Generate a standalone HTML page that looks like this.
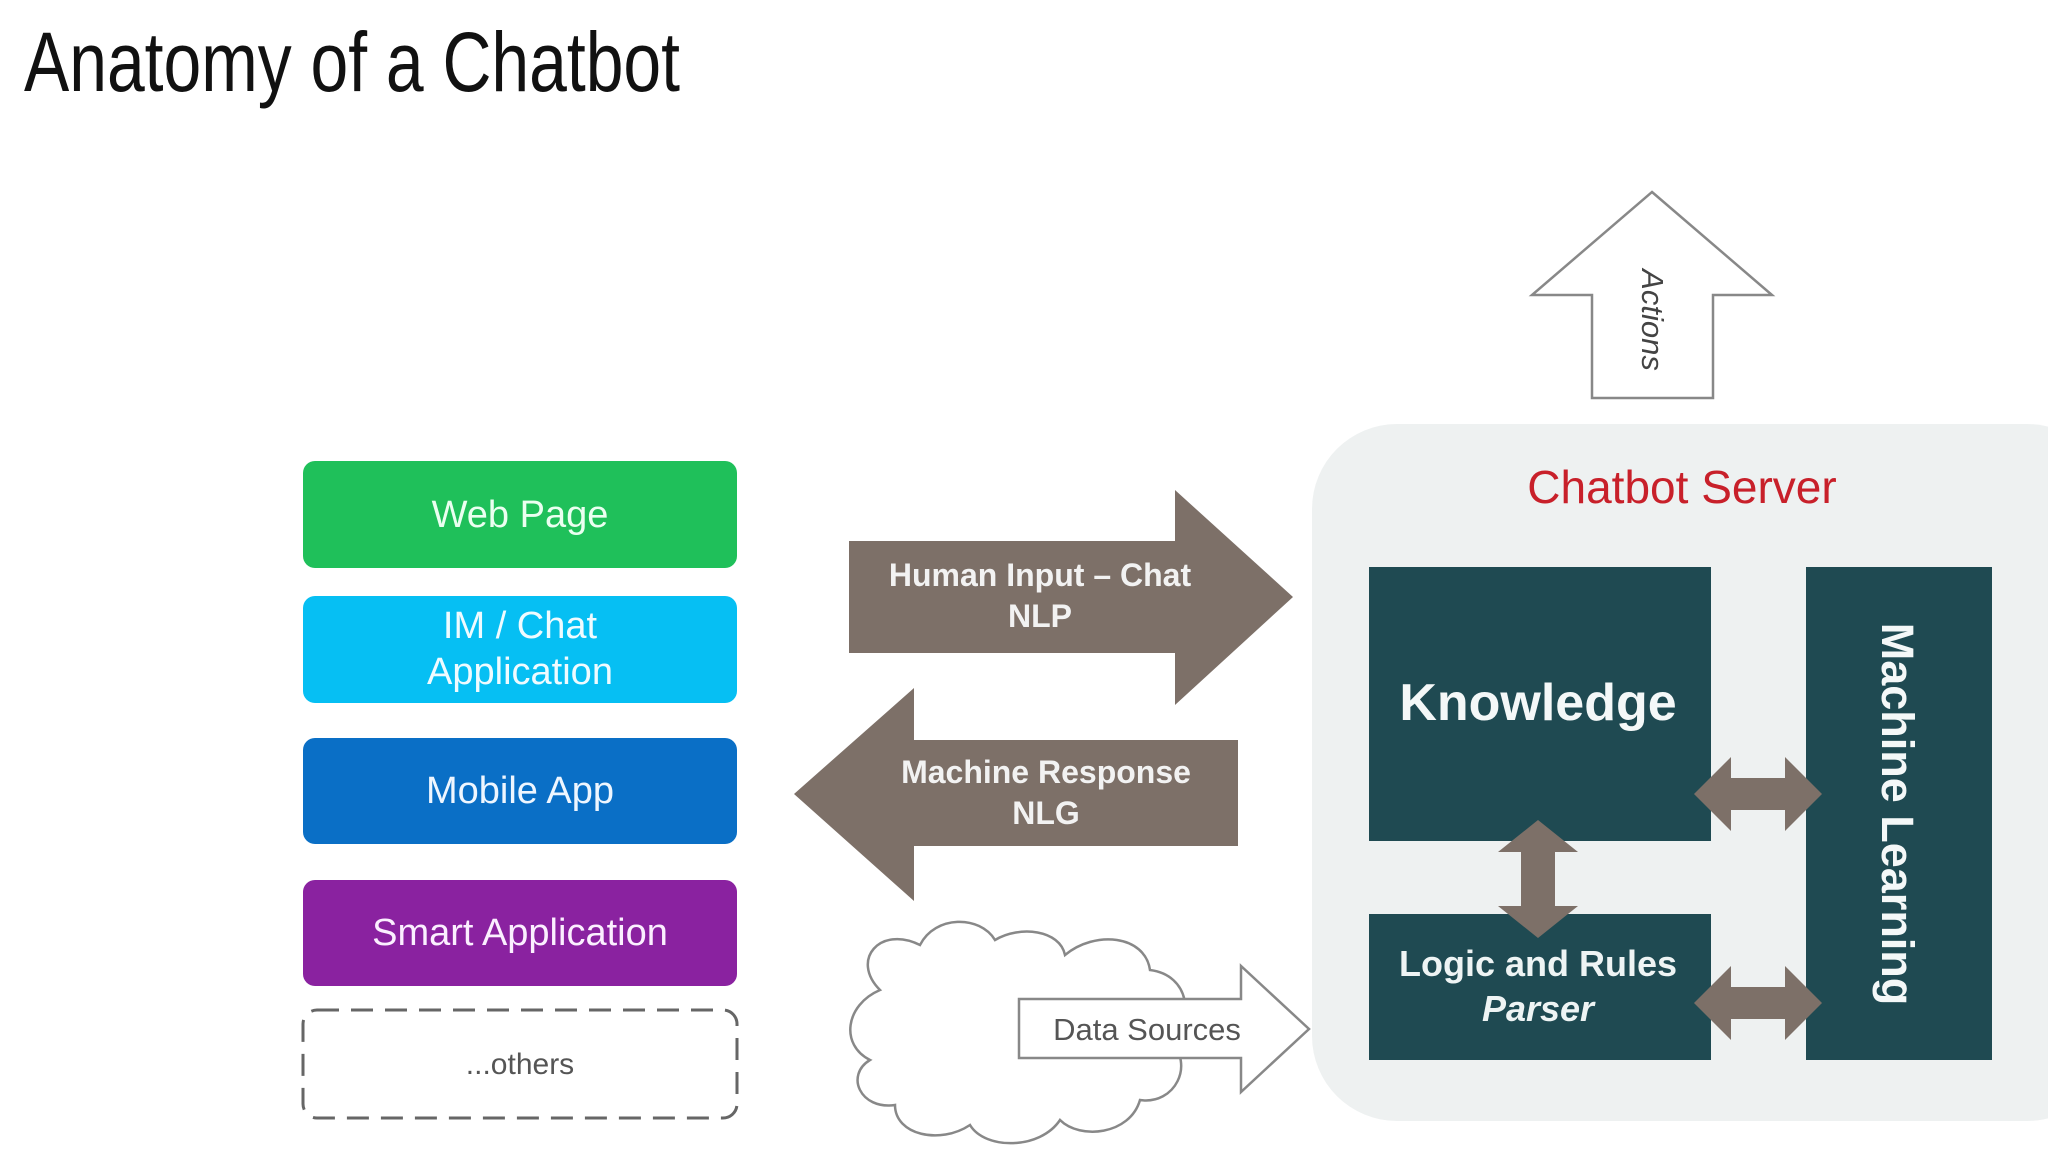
<!DOCTYPE html>
<html><head><meta charset="utf-8"><style>
html,body{margin:0;padding:0;background:#fff;width:2048px;height:1152px;overflow:hidden}
svg{display:block}
text{font-family:"Liberation Sans",sans-serif}
</style></head><body>
<svg width="2048" height="1152" viewBox="0 0 2048 1152">
<text x="24" y="91" font-size="84" fill="#111" textLength="656" lengthAdjust="spacingAndGlyphs">Anatomy of a Chatbot</text>

<rect x="303" y="461" width="434" height="107" rx="12" fill="#1fc05a"/>
<text x="520" y="527" font-size="38" fill="#eafff0" text-anchor="middle">Web Page</text>
<rect x="303" y="596" width="434" height="107" rx="12" fill="#06bff3"/>
<text x="520" y="638" font-size="38" fill="#effbff" text-anchor="middle">IM / Chat</text>
<text x="520" y="684" font-size="38" fill="#effbff" text-anchor="middle">Application</text>
<rect x="303" y="738" width="434" height="106" rx="12" fill="#0a6fc6"/>
<text x="520" y="803" font-size="38" fill="#eef6ff" text-anchor="middle">Mobile App</text>
<rect x="303" y="880" width="434" height="106" rx="12" fill="#8a22a0"/>
<text x="520" y="945" font-size="38" fill="#fbefff" text-anchor="middle">Smart Application</text>
<rect x="303" y="1010" width="434" height="108" rx="14" fill="#fff" stroke="#666" stroke-width="3" stroke-dasharray="22,12"/>
<text x="520" y="1074" font-size="30" fill="#555" text-anchor="middle">...others</text>

<polygon points="849,541 1175,541 1175,490 1293,597 1175,705 1175,653 849,653" fill="#7d7068"/>
<text x="1040" y="586" font-size="32" font-weight="bold" fill="#f2f2f2" text-anchor="middle">Human Input – Chat</text>
<text x="1040" y="627" font-size="32" font-weight="bold" fill="#f2f2f2" text-anchor="middle">NLP</text>
<polygon points="1238,740 914,740 914,688 794,794 914,901 914,846 1238,846" fill="#7d7068"/>
<text x="1046" y="783" font-size="32" font-weight="bold" fill="#f2f2f2" text-anchor="middle">Machine Response</text>
<text x="1046" y="824" font-size="32" font-weight="bold" fill="#f2f2f2" text-anchor="middle">NLG</text>

<g fill="#fff" stroke="#888" stroke-width="2.5">
<path d="M880,990 C850,960 880,925 920,945 C935,915 980,915 995,940 C1020,925 1060,930 1065,955 C1095,930 1145,935 1150,970 C1190,975 1195,1020 1170,1040 C1195,1065 1175,1105 1140,1100 C1130,1135 1080,1140 1060,1120 C1040,1150 985,1150 970,1125 C940,1145 895,1135 895,1105 C860,1110 845,1075 870,1060 C840,1045 845,1005 880,990 Z"/>
</g>
<polygon points="1019,999 1241,999 1241,966 1309,1029 1241,1092 1241,1058 1019,1058" fill="#fff" stroke="#888" stroke-width="2.5"/>
<text x="1147" y="1040" font-size="31" fill="#555" text-anchor="middle">Data Sources</text>

<polygon points="1652,192 1772,295 1713,295 1713,398 1592,398 1592,295 1532,295" fill="#fff" stroke="#888" stroke-width="2.5"/>
<text x="0" y="0" font-size="31" font-style="italic" fill="#444" text-anchor="middle" transform="translate(1642,320) rotate(90)">Actions</text>

<rect x="1312" y="424" width="800" height="697" rx="85" fill="#eef1f1"/>
<text x="1682" y="503" font-size="46" fill="#c8202a" text-anchor="middle">Chatbot Server</text>
<rect x="1369" y="567" width="342" height="274" fill="#1f4a52"/>
<text x="1538" y="720" font-size="52" font-weight="bold" fill="#f4f8f8" text-anchor="middle">Knowledge</text>
<rect x="1369" y="914" width="342" height="146" fill="#1f4a52"/>
<text x="1538" y="976" font-size="36" font-weight="bold" fill="#eef4f4" text-anchor="middle">Logic and Rules</text>
<text x="1538" y="1021" font-size="36" font-weight="bold" font-style="italic" fill="#eef4f4" text-anchor="middle">Parser</text>
<rect x="1806" y="567" width="186" height="493" fill="#1f4a52"/>
<text x="0" y="0" font-size="45" font-weight="bold" fill="#f4f8f8" text-anchor="middle" transform="translate(1882,814) rotate(90)">Machine Learning</text>

<g fill="#7d7068">
<polygon points="1694,794 1731,757 1731,778 1785,778 1785,757 1822,794 1785,831 1785,810 1731,810 1731,831"/>
<polygon points="1694,1003 1731,966 1731,987 1785,987 1785,966 1822,1003 1785,1040 1785,1019 1731,1019 1731,1040"/>
<polygon points="1538,820 1578,852 1555,852 1555,906 1578,906 1538,938 1498,906 1521,906 1521,852 1498,852"/>
</g>
</svg>
</body></html>
